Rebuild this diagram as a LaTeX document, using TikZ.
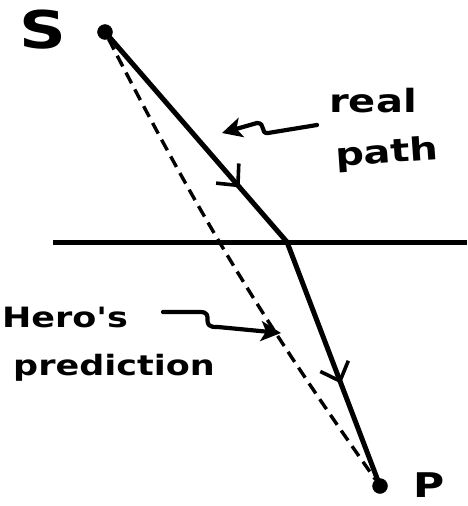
\documentclass[tikz,border=0pt]{standalone}
\usepackage{fontspec}
\newfontfamily\hand[FakeStretch=1.25]{DejaVu Sans}
\usetikzlibrary{arrows.meta, positioning, decorations.markings}
\tikzset{
  dotV/.style={circle, draw=black, fill=black,
               inner sep=0pt, minimum size=15pt},
  handT/.style={inner sep=0pt, font=\hand\bfseries\fontsize{28}{30}\selectfont},
  rayE/.style={draw=black, line width=5pt, line cap=round},
  guessE/.style={draw=black, line width=3.4pt, dash pattern=on 12pt off 7pt},
  pointerE/.style={draw=black, line width=4.2pt, line cap=round, line join=round,
                   -{Stealth[length=20pt, width=20pt, inset=5pt]}},
  midbarb/.style={postaction={decorate, decoration={markings,
      mark=at position #1 with {\arrow{Straight Barb[length=16pt, width=30pt, line width=3.6pt]}}}}},
}
\begin{document}
\begin{tikzpicture}[x=1pt, y=-1pt]
    \useasboundingbox (0,0) rectangle (467,506);
    %% end points and interface
    \node[dotV] (S) at (105,32) {};
    \node[dotV] (P) at (380,486) {};
    \coordinate (cross) at (287,242);
    \coordinate (surfL) at (53,242);
    \coordinate (surfR) at (467,242);
    \draw[rayE, line cap=butt] (surfL) -- (surfR);
    %% Hero's prediction (dashed)
    \draw[guessE] (S) to[bend right=4] (P);
    %% real path
    \draw[rayE, midbarb=0.74] (S.center) -- (cross);
    \draw[rayE, midbarb=0.58] (cross) -- (P.center);
    %% labels
    \node[handT, font=\hand\bfseries\fontsize{52}{52}\selectfont] (Slab) at (43,30) {S};
    \node[handT, font=\hand\bfseries\fontsize{34}{34}\selectfont, anchor=base] (Plab) at (429,497) {P};
    \node[handT, font=\hand\bfseries\fontsize{32}{32}\selectfont] (real) at (373,101) {real};
    \node[handT, font=\hand\bfseries\fontsize{32}{32}\selectfont, rotate=4] (path) at (387,154) {path};
    \node[handT] (hero) at (65,317) {Hero's};
    \node[handT] (pred) at (114,368) {prediction};
    %% pointers
    \coordinate (realTail) at (317,125);
    \coordinate (realTip) at (222,133);
    \draw[pointerE] (realTail) -- (268,133)
      .. controls (260,134) and (266,123) .. (257,123) -- (realTip);
    \coordinate (heroTail) at (163,312);
    \coordinate (heroTip) at (281,333);
    \draw[pointerE] (heroTail) -- (200,312)
      .. controls (216,312) and (198,328) .. (218,327) -- (heroTip);
  \end{tikzpicture}
\end{document}
